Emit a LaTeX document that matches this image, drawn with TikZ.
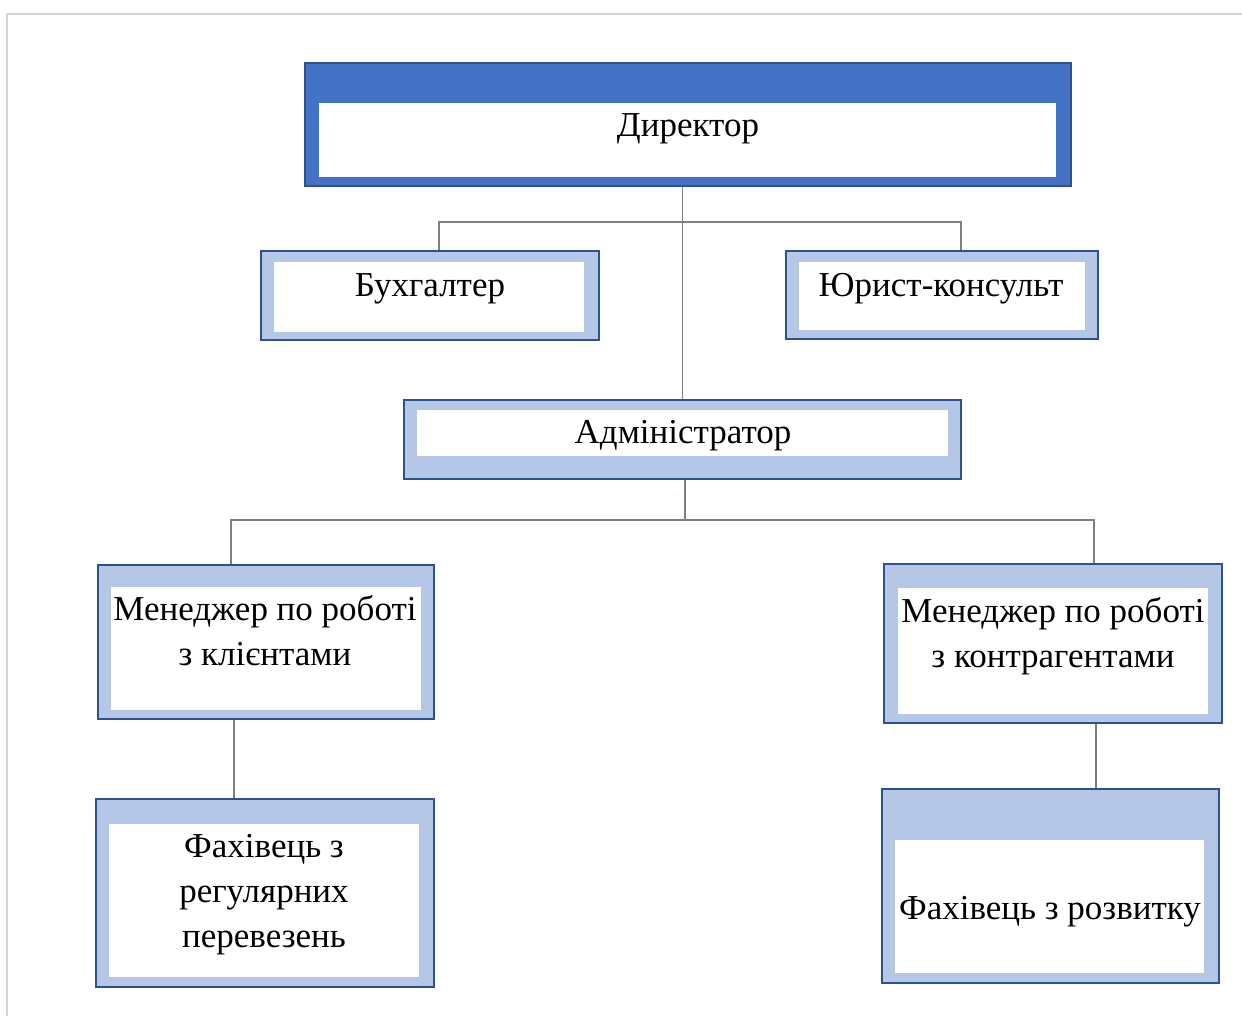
\documentclass[tikz,border=0pt]{standalone}
\usepackage{fontspec}
\setmainfont{Liberation Serif}
\usetikzlibrary{fit,calc}
\definecolor{topblue}{HTML}{4472C4}
\definecolor{edgeblue}{HTML}{2F528F}
\definecolor{paleblue}{HTML}{B4C7E7}
\definecolor{linkgray}{HTML}{7F7F7F}
\definecolor{framegray}{HTML}{D4D4D4}
\begin{document}
\begin{tikzpicture}[x=0.5pt,y=-0.5pt,
  headbox/.style={draw=edgeblue,fill=topblue,line width=1pt,inner sep=0pt},
  unitbox/.style={draw=edgeblue,fill=paleblue,line width=1pt,inner sep=0pt},
  pane/.style={fill=white,draw=none,inner sep=0pt},
  caption/.style={font=\fontsize{17.5}{22.5}\selectfont,align=center,inner sep=0pt,text=black},
  link/.style={draw=linkgray,line width=0.8pt}]
\useasboundingbox (0,0) rectangle (1242,1016);
% page frame
\draw[framegray,line width=1pt] (7,1016) -- (7,14) -- (1242,14);

% director
\node[headbox,fit={(305,63) (1071,186)}] (dir) {};
\node[pane,fit={(319,103) (1056,177)}] (dirp) {};
\node[caption,anchor=base] (dirt) at (688,137) {Директор};

% accountant and lawyer
\node[unitbox,fit={(261,251) (599,340)}] (buh) {};
\node[pane,fit={(274,262) (584,332)}] (buhp) {};
\node[caption,anchor=base] (buht) at (430,297) {Бухгалтер};

\node[unitbox,fit={(786,251) (1098,339)}] (yur) {};
\node[pane,fit={(799,262) (1085,330)}] (yurp) {};
\node[caption,anchor=base] (yurt) at (941,297) {Юрист-консульт};

% administrator
\node[unitbox,fit={(404,400) (961,479)}] (adm) {};
\node[pane,fit={(417,410) (948,456)}] (admp) {};
\node[caption,anchor=base] (admt) at (683,443) {Адміністратор};

% managers
\node[unitbox,fit={(98,565) (434,719)}] (mcl) {};
\node[pane,fit={(111,587) (421,710)}] (mclp) {};
\node[caption] (mclt) at (265,630.5) {Менеджер по роботі\\з клієнтами};

\node[unitbox,fit={(884,564) (1222,723)}] (mct) {};
\node[pane,fit={(898,588) (1208,714)}] (mctp) {};
\node[caption] (mctt) at (1053,636.5) {Менеджер по роботі\\з контрагентами};

% specialists
\node[unitbox,fit={(96,799) (434,987)}] (frg) {};
\node[pane,fit={(109,824) (419,977)}] (frgp) {};
\node[caption] (frgt) at (264,894.5) {Фахівець з\\регулярних\\перевезень};

\node[unitbox,fit={(882,789) (1219,983)}] (fdv) {};
\node[pane,fit={(895,840) (1204,973)}] (fdvp) {};
\node[caption,anchor=base] (fdvt) at (1050,919) {Фахівець з розвитку};

% connectors
\coordinate (j1) at (683,222);
\coordinate (j2) at (685,520);
\draw[link] (adm.north |- dir.south) -- (adm.north);
\draw[link] ([xshift=4.5pt]buh.north) |- (j1) -| ([xshift=9.5pt]yur.north);
\draw[link] (j2 |- adm.south) -- (j2);
\draw[link] ([xshift=-17.5pt]mcl.north) |- (j2) -| ([xshift=20.5pt]mct.north);
\draw[link] ([xshift=-16pt]mcl.south) -- ([xshift=-16pt]mcl.south |- frg.north);
\draw[link] ([xshift=21.5pt]mct.south) -- ([xshift=21.5pt]mct.south |- fdv.north);
\end{tikzpicture}
\end{document}
